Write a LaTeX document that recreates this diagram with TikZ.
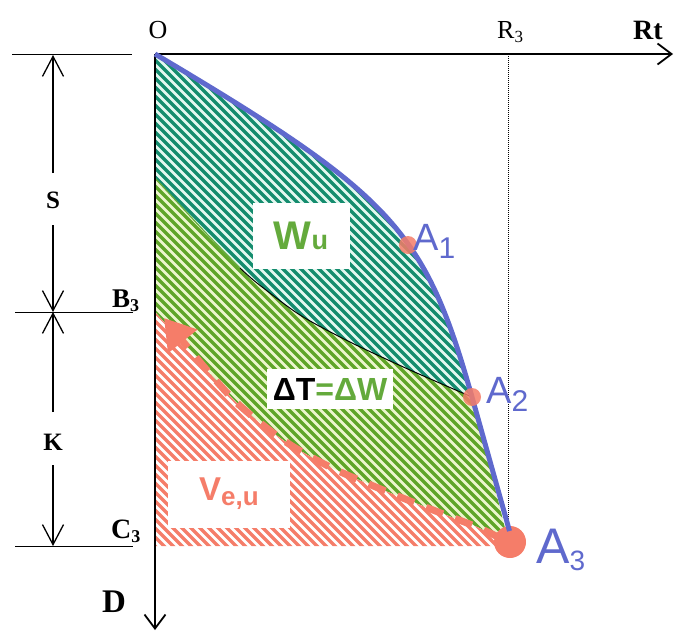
\documentclass[tikz,border=0pt]{standalone}
\usepackage{fontspec}
\setmainfont{Liberation Serif}
\setsansfont{Liberation Sans}
\usetikzlibrary{arrows.meta}
\definecolor{salmon}{RGB}{245,125,105}
\definecolor{curveblue}{RGB}{95,105,205}
\definecolor{hatchteal}{RGB}{20,140,110}
\definecolor{tealbg}{RGB}{228,248,240}
\definecolor{hatchgreen}{RGB}{95,165,40}
\definecolor{greenbg}{RGB}{236,246,205}
\definecolor{labelgreen}{RGB}{100,170,60}

\newcommand{\fs}[1]{\fontsize{#1}{#1}\selectfont}
\newcommand{\lowsub}[3]{\raisebox{-#1pt}{\fs{#2}#3}}
\newcommand{\stripes}[2]{%
  \fill[#1] (0,0) rectangle (676,632);
  \foreach \i in {-400,-391,...,460}
    \draw[#2, line width=3.3pt] (\i,0) -- ++(640,640);}

\tikzset{
  axisline/.style={line width=1.8pt, -{Straight Barb[length=14pt,width=21pt,line width=1.8pt]}},
  dimline/.style={line width=1.3pt},
  dimtip/.tip={Straight Barb[length=20pt,width=21pt,line width=1.3pt]},
  tickline/.style={line width=0.8pt},
  serif/.style={inner sep=0pt, font=\fs{26}},
  alabel/.style={inner sep=0pt, anchor=base west, text=curveblue, font=\sffamily},
  whitebox/.style={fill=white, inner sep=0pt, font=\sffamily\bfseries},
  pt/.style={fill=salmon, fill opacity=0.85}
}

\begin{document}
\begin{tikzpicture}[x=1pt, y=-1pt]
\useasboundingbox (0,0) rectangle (676,632);

\coordinate (O) at (155,54);
\coordinate (Rt) at (673,54);
\coordinate (D) at (155,630);
\coordinate (A1) at (408,245);
\coordinate (A2) at (472,397);
\coordinate (A3) at (510,542);
\coordinate (B3) at (155,312);
\coordinate (C3) at (155,546);
\coordinate (G) at (155,178);
\coordinate (R3) at (508,54);
\coordinate (R3low) at (508,528);

% W_u
\begin{scope}
\clip (O) .. controls (391,196) and (423,230) .. (A2)
  -- plot[smooth] coordinates {(472,397) (410,370) (350,342) (300,315) (257,283) (205,232) (155,178)} -- cycle;
\stripes{tealbg}{hatchteal}
\end{scope}
% Delta T = Delta W
\begin{scope}
\clip plot[smooth] coordinates {(155,178) (205,232) (257,283) (300,315) (350,342) (410,370) (472,397)}
  -- (508,540)
  -- plot[smooth] coordinates {(508,543) (477,527) (433,510) (383,490) (330,467) (283,440) (237,403) (200,362) (155,312)}
  -- cycle;
\stripes{greenbg}{hatchgreen}
\end{scope}
% V_{e,u}
\begin{scope}
\clip plot[smooth] coordinates {(155,312) (200,362) (237,403) (283,440) (330,467) (383,490) (433,510) (477,527) (508,543)}
  -- (508,546) -- (C3) -- cycle;
\stripes{white}{salmon}
\end{scope}

\draw[labelgreen, line width=1.2pt]
  plot[smooth] coordinates {(155,178) (205,232) (240,268)};
\draw[black, line width=1pt]
  plot[smooth] coordinates {(240,268) (257,283) (300,315) (350,342) (410,370) (472,397)};

\draw[salmon, line width=7pt, dash pattern=on 18pt off 13pt,
  -{Triangle[length=30pt,width=36pt]}]
  plot[smooth] coordinates {(500,538) (477,527) (433,510) (383,490) (330,467) (283,440) (237,403) (200,362) (164,318)};

\draw[axisline] (O) -- (Rt);
\draw[axisline] (O) -- (D);
\draw[line width=1pt, densely dotted] (R3) -- (R3low);

\draw[tickline] (12,54) -- (132,54);
\draw[tickline] (15,312) -- (133,312);
\draw[tickline] (15,546) -- (133,546);

\node[serif, font=\fs{25}\bfseries] (s) at (53,200) {S};
\node[serif, font=\fs{25}\bfseries] (k) at (53,442) {K};
\draw[dimline, -{dimtip}] (s.north |- 0,173) -- (53,55);
\draw[dimline, -{dimtip}] (s.south |- 0,225) -- (53,312);
\draw[dimline, -{dimtip}] (k.north |- 0,412) -- (53,312);
\draw[dimline, -{dimtip}] (k.south |- 0,465) -- (53,546);

\fill[salmon] (A3) circle (16pt);
\draw[black, line width=1.2pt] (O) .. controls (391,196) and (423,230) .. (A2);
\draw[curveblue, line width=5pt, xshift=1.5pt, yshift=1pt]
  (O) .. controls (391,196) and (423,230) .. (A2) -- (508,532);
\fill[pt] (A1) circle (9pt);
\fill[pt] (A2) circle (9pt);

\node[whitebox, minimum width=97pt, minimum height=66pt, text=labelgreen] (wu) at (301,236)
  {\fs{40}W\fs{27}u};
\node[whitebox, minimum width=126pt, minimum height=40pt] (dw) at (330,389)
  {\fs{32}\textcolor{black}{ΔT}\textcolor{labelgreen}{=ΔW}};
\node[whitebox, minimum width=122pt, minimum height=67pt, text=salmon] (ve) at (229,494)
  {\fs{33}V\lowsub{5}{26}{e,u}};

\node[alabel] (a1) at (413,250) {\fs{38}A\lowsub{8}{30}{1}};
\node[alabel] (a2) at (486,403) {\fs{38}A\lowsub{8}{30}{2}};
\node[alabel] (a3) at (536,563) {\fs{50}A\lowsub{7}{28}{3}};

\node[serif] (o) at (158,30) {O};
\node[serif, anchor=base west] (r3) at (497,38) {R\lowsub{4}{17}{3}};
\node[serif, anchor=base west, font=\fs{28}\bfseries] (rt) at (633,39) {Rt};
\node[serif, anchor=base west, font=\fs{27}\bfseries] (b3) at (112,307) {B\lowsub{4}{18}{3}};
\node[serif, anchor=base west, font=\fs{28}\bfseries] (c3) at (111,538) {C\lowsub{4}{18}{3}};
\node[serif, anchor=base west, font=\fs{33}\bfseries] (d) at (102,612) {D};
\end{tikzpicture}
\end{document}
